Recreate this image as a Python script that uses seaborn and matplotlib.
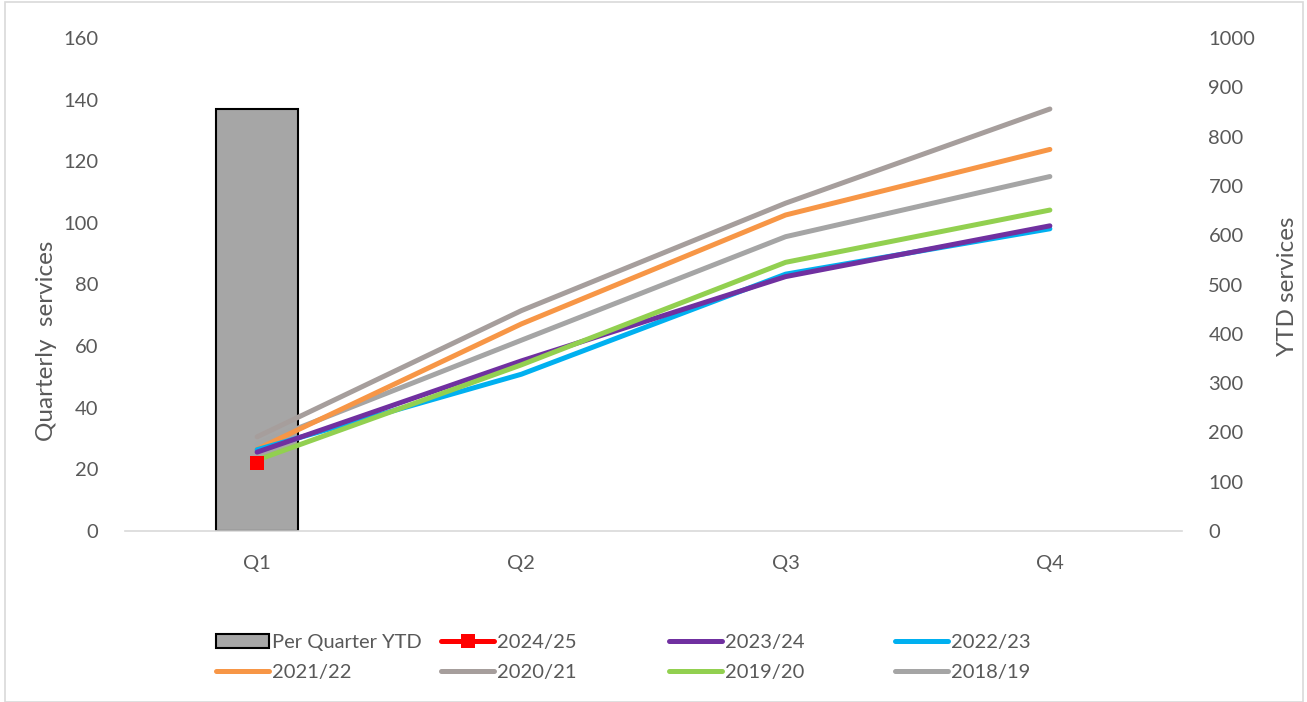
import numpy as np
import pandas as pd
import matplotlib
matplotlib.use("Agg")
import matplotlib.pyplot as plt
from matplotlib.patches import Rectangle
from matplotlib.lines import Line2D
import seaborn as sns

# ---- data ----
quarters = ["Q1", "Q2", "Q3", "Q4"]
per_quarter_ytd = [137, np.nan, np.nan, np.nan]

ytd_2024_25 = [137, np.nan, np.nan, np.nan]
ytd_2023_24 = [160, 345, 516, 619]
ytd_2022_23 = [165, 318, 521, 613]
ytd_2021_22 = [166, 420, 641, 774]
ytd_2020_21 = [191, 447, 665, 856]
ytd_2019_20 = [144, 337, 545, 651]
ytd_2018_19 = [176, 387, 597, 719]

series_names = ["2024/25", "2023/24", "2022/23", "2021/22", "2020/21", "2019/20", "2018/19"]
series_vals = [ytd_2024_25, ytd_2023_24, ytd_2022_23, ytd_2021_22, ytd_2020_21, ytd_2019_20, ytd_2018_19]
colors = {"2024/25": "#FF0000", "2023/24": "#7030A0", "2022/23": "#00B0F0",
          "2021/22": "#F79646", "2020/21": "#A69E9C", "2019/20": "#92D050",
          "2018/19": "#A5A5A5"}
# drawing order (back to front)
draw_order = ["2018/19", "2021/22", "2020/21", "2022/23", "2023/24", "2019/20", "2024/25"]

sns.set_theme(style="white")
plt.rcParams["font.family"] = ["Lato", "DejaVu Sans"]
txt = "#595959"
fs = 14.5

fig = plt.figure(figsize=(13.07, 7.02), dpi=100)
ax = fig.add_axes([125/1307, 1-531/702, 1057/1307, 493/702])

bar_df = pd.DataFrame({"quarter": quarters, "value": per_quarter_ytd})
sns.barplot(data=bar_df, x="quarter", y="value", order=quarters, ax=ax,
            color="#A6A6A6", saturation=1, width=0.31,
            edgecolor="black", linewidth=1.5)
ax.set_ylim(0, 160)
ax.set_xlim(-0.5, 3.5)
ax.set_yticks(range(0, 161, 20))

ax2 = ax.twinx()
lw = 3.6
for name in draw_order:
    vals = series_vals[series_names.index(name)]
    df = pd.DataFrame({"x": np.arange(4), "y": vals})
    if name == "2024/25":
        sns.lineplot(data=df, x="x", y="y", ax=ax2, color=colors[name], lw=lw,
                     marker="s", markersize=10, markeredgewidth=0)
    else:
        sns.lineplot(data=df, x="x", y="y", ax=ax2, color=colors[name], lw=lw,
                     solid_capstyle="round")
ax2.set_ylim(0, 1000)
ax2.set_yticks(range(0, 1001, 100))
ax2.set_xlim(-0.5, 3.5)

for a in (ax, ax2):
    for s in a.spines.values():
        s.set_visible(False)
    a.tick_params(length=0, labelsize=fs, labelcolor=txt)
    a.grid(False)
ax.spines["bottom"].set_visible(True)
ax.spines["bottom"].set_color("#D9D9D9")
ax.spines["bottom"].set_linewidth(1.2)
ax.tick_params(axis="y", pad=19)
ax.tick_params(axis="x", pad=17)
ax2.tick_params(axis="y", pad=19)
ax.set_xlabel("")
ax.set_ylabel("Quarterly  services", fontsize=17.5, color=txt)
ax.yaxis.set_label_coords(-0.064, 0.385)
ax2.set_xlabel("")
ax2.set_ylabel("YTD services", fontsize=17.5, color=txt)
ax2.yaxis.set_label_coords(1.09, 0.497)

# legend, built per column
def lh(c, **kw):
    return Line2D([], [], color=c, lw=lw, **kw)

h_bar = Rectangle((0, 0), 1, 1, facecolor="#A6A6A6", edgecolor="black", linewidth=1.5)
cols = [
    ([h_bar, lh(colors["2021/22"])], ["Per Quarter YTD", "2021/22"], 216),
    ([lh(colors["2024/25"], marker="s", markersize=10, markeredgewidth=0), lh(colors["2020/21"])], ["2024/25", "2020/21"], 441),
    ([lh(colors["2023/24"]), lh(colors["2019/20"])], ["2023/24", "2019/20"], 669),
    ([lh(colors["2022/23"]), lh(colors["2018/19"])], ["2022/23", "2018/19"], 895),
]
for handles, labels, x in cols:
    leg = fig.legend(handles, labels, loc="upper left",
                     bbox_to_anchor=(x/1307, 1-634/702), frameon=False,
                     fontsize=fs, handlelength=2.65, handletextpad=0.15,
                     labelspacing=0.62, borderaxespad=0, borderpad=0)
    for t in leg.get_texts():
        t.set_color(txt)

# chart border
fig.patches.append(Rectangle((5/1307, 0), 1298/1307, 700/702, transform=fig.transFigure,
                             fill=False, edgecolor="#D9D9D9", lw=1.2))

fig.savefig("out.png", dpi=100)
